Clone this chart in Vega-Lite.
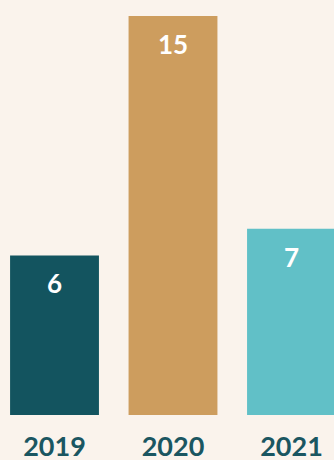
{
  "$schema": "https://vega.github.io/schema/vega-lite/v6.json",
  "width": 346,
  "height": 399,
  "autosize": {"type": "none"},
  "padding": {"top": 16, "left": 0, "right": 0, "bottom": 45},
  "background": "#FAF3EC",
  "config": {"view": {"stroke": null}},
  "data": {"values": [
    {"year": "2019", "value": 6},
    {"year": "2020", "value": 15},
    {"year": "2021", "value": 7}
  ]},
  "encoding": {
    "x": {"field": "year", "type": "nominal", "sort": null,
      "scale": {"paddingInner": 0.25, "paddingOuter": 0.085},
      "axis": {"title": null, "domain": false, "ticks": false, "labelAngle": 0,
        "labelFont": "Lato", "labelFontWeight": "bold", "labelFontSize": 27,
        "labelColor": "#1A5661", "labelPadding": 40, "labelBaseline": "alphabetic"}},
    "y": {"field": "value", "type": "quantitative",
      "scale": {"domain": [0, 15], "nice": false},
      "axis": null}
  },
  "layer": [
    {"mark": {"type": "bar"},
     "encoding": {"color": {"field": "year", "type": "nominal", "legend": null,
       "scale": {"domain": ["2019", "2020", "2021"], "range": ["#13545F", "#CD9D5E", "#61C0C7"]}}}},
    {"mark": {"type": "text", "baseline": "alphabetic", "dy": 38, "font": "Lato", "fontWeight": "bold", "fontSize": 26, "color": "#FFFFFF"},
     "encoding": {"text": {"field": "value", "type": "quantitative"}}}
  ]
}
